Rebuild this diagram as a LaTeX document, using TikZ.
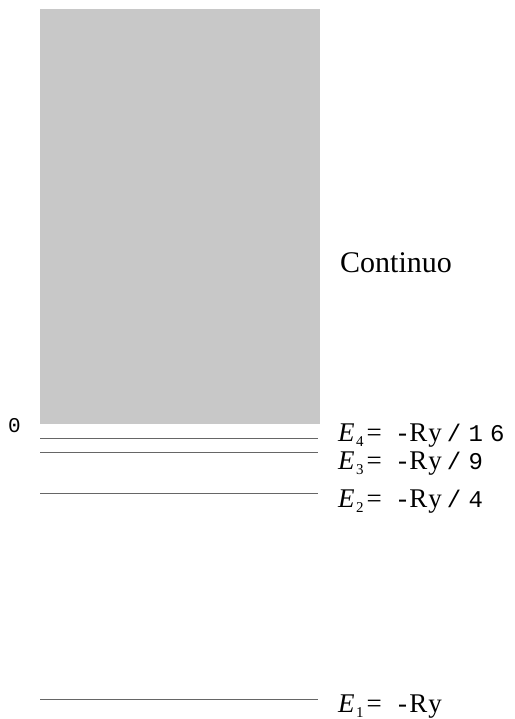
\documentclass[tikz,border=0pt]{standalone}
\usepackage{fontspec}
\setmainfont{Liberation Serif}
\setmonofont{Liberation Mono}
\definecolor{continuo}{RGB}{200,200,200}

% etiqueta de un nivel: E_n=  valor
\newcommand{\energia}[3]{\makebox[60pt][l]{\textit{E}\kern1.5pt\raisebox{-5pt}{\fontsize{15}{15}\selectfont #1}\kern3pt=}%
  {\addfontfeature{LetterSpace=8}\fontsize{27}{30}\selectfont #2}\kern5pt%
  {\ttfamily\addfontfeature{LetterSpace=30}\fontsize{24}{28}\selectfont #3}}

\begin{document}
\begin{tikzpicture}[x=1pt, y=-1pt,
  nivel/.style={draw=black!60, line width=0.8pt},
  etiq/.style={anchor=base west, inner sep=0pt, font=\fontsize{27}{30}\selectfont}]
  \useasboundingbox (0,0) rectangle (514,719);

  % banda continua
  \fill[continuo] (40,9) rectangle (320,424);
  \node[anchor=base west, inner sep=0pt, font=\fontsize{30}{34}\selectfont] (cont) at (340,272) {Continuo};
  \node[anchor=base west, inner sep=0pt, font=\ttfamily\fontsize{21}{24}\selectfont] (cero) at (8,432) {0};

  % niveles ligados
  \foreach \n/\y/\ty/\val/\den in {4/438/441/{-Ry}/{/16}, 3/452/469/{-Ry}/{/9}, 2/493/507/{-Ry}/{/4}, 1/699/712/{-Ry}/{}}{
    \coordinate (a\n) at (40,\y);
    \coordinate (b\n) at (318,\y);
    \draw[nivel] (a\n) -- (b\n);
    \node[etiq] (e\n) at (338,\ty) {\energia{\n}{\val}{\den}};
  }
\end{tikzpicture}
\end{document}
